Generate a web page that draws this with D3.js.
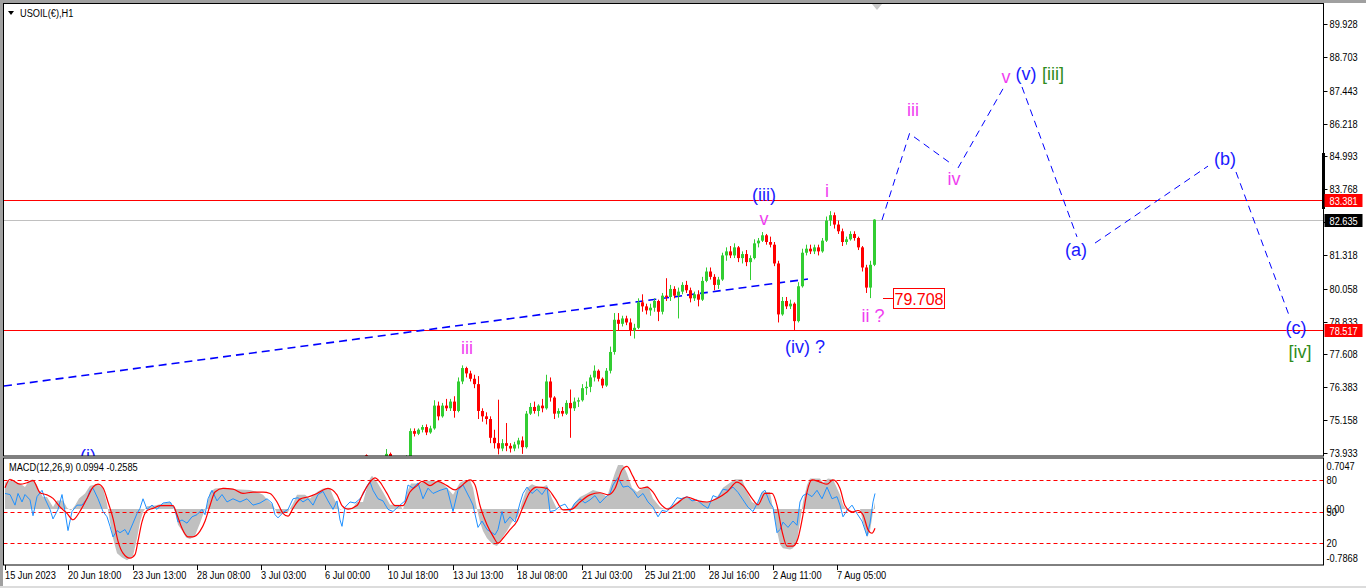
<!DOCTYPE html>
<html>
<head>
<meta charset="utf-8">
<script src="https://cdn.jsdelivr.net/npm/d3@7"></script>
<style>
  body { margin: 0; background: #fff; overflow: hidden; }
  text { font-family: "Liberation Sans", Arial, sans-serif; }
</style>
</head>
<body>
<div id="chart"></div>
<script>
var svgWidth = 1366;
var svgHeight = 588;

// ---------- data ----------
var symbolTitle = "USOIL(€),H1";
var macdTitle = "MACD(12,26,9) 0.0994 -0.2585";

var priceTicks = [89.928, 88.703, 87.443, 86.218, 84.993, 83.768, 82.543, 81.318, 80.058, 78.833, 77.608, 76.383, 75.158, 73.933];
var timeTickHours = [0, 63, 128, 192, 256, 320, 383, 448, 512, 577, 640, 704, 768, 832];
var timeTickLabels = ["15 Jun 2023", "20 Jun 18:00", "23 Jun 13:00", "28 Jun 08:00", "3 Jul 03:00", "6 Jul 00:00",
  "10 Jul 18:00", "13 Jul 13:00", "18 Jul 08:00", "21 Jul 03:00", "25 Jul 21:00", "28 Jul 16:00", "2 Aug 11:00", "7 Aug 05:00"];

// 4-hour OHLC groups starting at hour 360
var barStartHour = 360;
var barStepHours = 4;
var priceBars = [
  [73.85,73.88,73.60,73.70],[73.70,73.80,73.40,73.60],[73.60,73.80,73.50,73.70],[73.70,73.75,73.40,73.50],
  [73.50,73.70,73.30,73.60],[73.60,74.08,73.50,73.90],[73.90,73.95,73.60,73.70],[73.70,73.80,73.40,73.50],
  [73.50,73.70,73.30,73.60],[73.60,73.75,73.40,73.70],[73.70,73.85,73.50,73.80],[73.80,74.85,73.70,74.75],
  [74.75,74.85,74.55,74.65],[74.65,74.85,74.60,74.80],[74.80,74.98,74.70,74.90],[74.90,75.00,74.60,74.70],
  [74.70,74.95,74.65,74.85],[74.85,75.90,74.80,75.70],[75.70,75.85,75.15,75.30],[75.30,75.80,75.25,75.70],
  [75.70,75.95,75.50,75.60],[75.60,75.95,75.50,75.85],[75.85,76.05,75.25,75.50],[75.50,76.75,75.45,76.60],
  [76.60,77.20,76.50,77.10],[77.10,77.15,76.75,76.90],[76.90,77.00,76.60,76.70],[76.70,76.85,76.35,76.50],
  [76.50,76.80,75.20,75.50],[75.50,75.60,75.10,75.30],[75.30,75.45,75.00,75.20],[75.20,75.30,74.30,74.50],
  [74.50,74.80,74.10,74.30],[74.30,75.92,73.88,74.10],[74.10,74.45,74.00,74.30],[74.30,75.05,74.00,74.20],
  [74.20,74.30,73.95,74.10],[74.10,74.35,74.00,74.25],[74.25,74.50,74.10,74.40],[74.40,74.55,73.90,74.15],
  [74.15,75.50,74.10,75.40],[75.40,75.80,75.35,75.65],[75.65,75.85,75.40,75.50],[75.50,75.75,75.30,75.70],
  [75.70,75.95,75.45,75.60],[75.60,76.85,75.55,76.60],[76.60,76.75,75.85,76.00],[76.00,76.05,75.20,75.40],
  [75.40,75.60,75.25,75.50],[75.50,75.65,75.30,75.40],[75.40,75.90,75.35,75.80],[75.80,76.30,74.50,75.60],
  [75.60,76.00,75.50,75.85],[75.85,76.00,75.65,75.90],[75.90,76.50,75.85,76.35],[76.35,76.60,76.10,76.40],
  [76.40,76.85,76.20,76.75],[76.75,77.20,76.60,77.00],[77.00,77.05,76.60,76.70],[76.70,76.75,76.35,76.45],
  [76.45,77.10,76.40,77.00],[77.00,77.90,76.90,77.70],[77.70,79.15,77.60,78.90],[78.90,79.15,78.50,78.75],
  [78.75,79.05,78.65,78.95],[78.95,79.05,78.70,78.80],[78.80,78.95,78.30,78.50],[78.50,78.75,78.20,78.60],
  [78.60,79.70,78.55,79.55],[79.55,79.85,79.20,79.40],[79.40,79.50,79.10,79.25],[79.25,79.50,79.05,79.35],
  [79.35,79.70,79.20,79.60],[79.60,79.65,78.85,79.20],[79.20,79.90,79.10,79.80],[79.80,80.45,79.60,79.75],
  [79.75,80.20,79.60,80.05],[80.05,80.15,79.70,79.80],[79.80,80.10,78.95,79.95],[79.95,80.30,79.85,80.20],
  [80.20,80.35,79.90,80.00],[80.00,80.10,79.55,79.70],[79.70,79.95,79.60,79.85],[79.85,80.00,79.40,79.65],
  [79.65,80.50,79.60,80.35],[80.35,80.85,80.30,80.70],[80.70,80.85,80.40,80.50],[80.50,80.60,80.00,80.20],
  [80.20,80.50,80.05,80.40],[80.40,81.40,80.35,81.30],[81.30,81.60,81.10,81.45],[81.45,81.65,81.20,81.30],
  [81.30,81.75,81.20,81.60],[81.60,81.65,81.05,81.20],[81.20,81.45,81.00,81.35],[81.35,81.50,80.90,81.05],
  [81.05,81.30,80.38,81.20],[81.20,81.90,81.15,81.75],[81.75,81.95,81.60,81.85],[81.85,82.17,81.80,82.05],
  [82.05,82.10,81.70,81.80],[81.80,82.00,81.60,81.70],[81.70,81.80,80.90,81.00],[81.00,81.10,78.80,79.10],
  [79.10,79.75,79.05,79.60],[79.60,79.75,79.30,79.40],[79.40,79.65,79.30,79.50],[79.50,79.55,78.52,78.85],
  [78.85,80.30,78.80,80.15],[80.15,81.55,80.10,81.40],[81.40,81.70,81.30,81.55],[81.55,81.70,81.35,81.45],
  [81.45,81.70,81.35,81.60],[81.60,81.70,81.30,81.45],[81.45,81.95,81.40,81.85],[81.85,82.75,81.80,82.60],
  [82.60,82.95,82.40,82.80],[82.80,82.90,82.30,82.45],[82.45,82.60,82.10,82.20],[82.20,82.30,81.65,81.80],
  [81.80,82.00,81.70,81.90],[81.90,82.20,81.85,82.10],[82.10,82.20,81.85,81.95],[81.95,82.00,81.50,81.60],
  [81.60,81.65,80.70,80.85],[80.85,80.95,79.90,80.10],[80.10,81.10,79.708,80.95],[80.95,82.65,80.90,82.635]
];

var levelPrices = [83.381, 78.517];
var currentPrice = 82.635;
var lowMark = { hour: 888, price: 79.708 };

// long dashed trendline and the projected wave legs: [hour1, price1, hour2, price2]
var trendLine = [-1, 76.43, 803, 80.42];
var waveLegs = [
  [877, 82.62, 905, 85.90],
  [909, 85.72, 948, 84.67],
  [953, 84.56, 999, 87.58],
  [1017, 87.58, 1072, 81.99],
  [1090, 81.76, 1203, 84.63],
  [1231, 84.41, 1285, 78.97]
];

// wave labels: [text, hour, price, kind]
var waveLabels = [
  ["(i)", 83, 73.60, "blue"], ["iii", 462, 77.62, "pink"], ["(iii)", 759, 83.33, "blue"],
  ["v", 759, 82.43, "pink"], ["i", 822, 83.48, "pink"], ["(iv) ?", 800, 77.66, "blue"],
  ["ii ?", 868, 78.82, "pink"], ["iii", 908, 86.50, "pink"], ["iv", 949, 83.93, "pink"],
  ["v", 1001, 87.73, "pink"], ["(v)", 1021, 87.84, "blue"], ["[iii]", 1048, 87.84, "green"],
  ["(a)", 1071, 81.28, "blue"], ["(b)", 1220, 84.67, "blue"], ["(c)", 1291, 78.37, "blue"],
  ["[iv]", 1295, 77.47, "green"]
];

// MACD histogram [hour, value]
var macdHist = [
  [0,0.37],[3,0.40],[8,0.40],[12,0.37],[16,0.35],[20,0.31],[24,0.40],[28,0.42],[32,0.34],[35,0.24],[38,0.17],
  [42,0.17],[45,0.10],[48,0.03],[52,0.12],[58,0.12],[62,0.02],[66,-0.02],[70,0.05],[74,0.15],[80,0.22],[85,0.33],
  [92,0.35],[98,0.30],[102,0.07],[105,-0.18],[108,-0.41],[112,-0.62],[117,-0.68],[122,-0.72],[128,-0.66],[132,-0.41],
  [135,-0.18],[138,-0.04],[142,0.04],[150,0.05],[158,0.08],[166,0.10],[170,-0.04],[173,-0.22],[177,-0.30],[181,-0.40],
  [185,-0.42],[190,-0.38],[192,-0.30],[195,-0.20],[198,-0.08],[202,0.06],[205,0.24],[210,0.29],[220,0.30],[230,0.28],
  [245,0.27],[252,0.24],[258,0.20],[263,0.12],[268,0.05],[273,-0.08],[278,-0.06],[283,-0.04],[288,0.08],[292,0.20],
  [300,0.20],[305,0.15],[312,0.24],[318,0.29],[325,0.29],[329,0.15],[333,0.05],[335,-0.01],[340,0.02],[348,0.02],
  [352,0.10],[358,0.10],[362,0.31],[365,0.43],[367,0.47],[372,0.38],[378,0.24],[385,0.06],[395,0.06],[398,-0.01],
  [402,0.24],[406,0.36],[415,0.36],[420,0.40],[428,0.40],[437,0.37],[442,0.30],[448,0.20],[452,0.30],[455,0.37],
  [460,0.41],[465,0.41],[468,0.30],[472,0.00],[475,-0.18],[478,-0.31],[482,-0.41],[488,-0.50],[492,-0.52],[497,-0.41],
  [502,-0.31],[507,-0.18],[513,-0.10],[517,0.10],[522,0.30],[527,0.35],[535,0.30],[542,0.34],[547,0.15],[552,0.00],
  [560,-0.02],[565,-0.02],[568,0.06],[575,0.17],[582,0.22],[588,0.27],[595,0.24],[602,0.17],[605,0.30],[610,0.51],
  [613,0.62],[618,0.62],[622,0.50],[627,0.30],[632,0.24],[638,0.30],[643,0.33],[648,0.15],[655,0.03],[660,0.00],
  [665,0.03],[672,0.10],[678,0.17],[685,0.15],[692,0.10],[705,0.10],[712,0.17],[718,0.30],[725,0.37],[730,0.42],
  [737,0.42],[742,0.24],[747,0.10],[752,0.06],[757,0.24],[765,0.24],[768,0.00],[772,-0.31],[775,-0.50],[778,-0.55],
  [785,-0.57],[788,-0.55],[792,-0.45],[795,-0.18],[798,0.10],[802,0.34],[805,0.43],[815,0.43],[818,0.37],[823,0.43],
  [828,0.42],[835,0.20],[838,0.06],[842,-0.02],[845,0.00],[855,0.00],[858,-0.18],[862,-0.40],[865,-0.31],[868,-0.04],
  [870,0.10]
];

// MACD signal [hour, value]
var macdSignal = [
  [0,0.30],[5,0.42],[15,0.35],[22,0.37],[28,0.40],[35,0.23],[42,0.20],[48,0.15],[55,0.03],[62,-0.06],[68,-0.15],
  [75,-0.03],[82,0.15],[88,0.31],[93,0.35],[98,0.30],[103,0.10],[108,-0.13],[113,-0.45],[118,-0.62],[125,-0.69],
  [130,-0.64],[133,-0.45],[137,-0.18],[142,-0.02],[148,0.01],[155,0.05],[168,0.05],[172,-0.08],[177,-0.27],[183,-0.39],
  [188,-0.39],[195,-0.31],[200,-0.17],[205,0.05],[210,0.24],[218,0.29],[228,0.28],[238,0.22],[248,0.24],[258,0.24],
  [265,0.22],[272,0.10],[278,-0.06],[283,-0.10],[288,0.01],[295,0.14],[303,0.17],[312,0.22],[323,0.29],[332,0.20],
  [337,0.05],[343,0.00],[352,0.05],[358,0.22],[365,0.38],[370,0.44],[375,0.38],[382,0.22],[390,0.05],[398,0.05],
  [405,0.24],[412,0.33],[417,0.39],[425,0.33],[433,0.39],[442,0.33],[450,0.27],[455,0.31],[465,0.41],[470,0.34],
  [475,0.05],[482,-0.22],[488,-0.38],[493,-0.48],[498,-0.41],[505,-0.29],[512,-0.17],[518,0.03],[525,0.24],[532,0.31],
  [542,0.29],[550,0.15],[558,-0.01],[567,0.00],[575,0.10],[585,0.20],[595,0.23],[603,0.20],[610,0.29],[617,0.55],
  [622,0.60],[628,0.46],[635,0.29],[642,0.31],[648,0.24],[655,0.08],[663,0.00],[672,0.08],[682,0.17],[692,0.12],
  [702,0.10],[712,0.15],[722,0.24],[732,0.38],[738,0.33],[747,0.15],[753,0.06],[760,0.22],[767,0.22],[772,0.05],
  [777,-0.31],[782,-0.52],[788,-0.52],[793,-0.41],[798,-0.08],[802,0.24],[807,0.41],[815,0.38],[822,0.35],[828,0.41],
  [835,0.29],[840,0.05],[847,-0.04],[853,-0.02],[858,-0.08],[863,-0.29],[867,-0.34],[870,-0.27]
];

// oscillator drawn on the 0..100 scale [hour, value]
var oscLine = [
  [0,67],[5,66],[10,56],[13,67],[17,59],[20,66],[25,61],[28,46],[32,64],[37,70],[40,62],[45,52],[48,43],[53,52],
  [57,66],[60,50],[63,32],[67,50],[72,56],[77,56],[82,62],[85,70],[88,72],[93,62],[98,50],[102,45],[105,36],[108,26],
  [112,32],[115,30],[120,33],[123,28],[128,39],[132,48],[135,53],[138,62],[142,52],[147,56],[152,52],[158,58],[165,59],
  [170,52],[173,40],[177,42],[182,39],[187,45],[192,47],[197,52],[200,47],[203,62],[207,70],[212,60],[217,66],[222,59],
  [228,62],[235,59],[242,62],[248,56],[255,58],[262,62],[267,58],[270,47],[273,44],[278,49],[283,52],[288,62],[293,63],
  [298,59],[303,62],[308,56],[313,66],[318,69],[323,60],[328,52],[332,60],[335,42],[337,36],[340,54],[345,59],[350,58],
  [355,62],[358,66],[362,74],[365,78],[368,70],[373,62],[378,60],[383,52],[388,50],[395,56],[400,60],[403,75],[408,72],
  [413,77],[418,62],[423,72],[428,67],[435,70],[442,72],[448,50],[453,70],[458,75],[465,62],[468,56],[473,35],[477,41],
  [482,33],[487,30],[490,28],[493,33],[497,50],[500,39],[505,45],[510,40],[515,58],[518,67],[522,73],[527,67],[532,71],
  [537,66],[542,73],[545,50],[550,51],[555,55],[560,57],[565,50],[570,58],[575,62],[580,58],[585,61],[590,65],[595,58],
  [600,63],[605,67],[608,75],[613,82],[618,73],[623,74],[628,70],[633,63],[638,67],[643,59],[648,54],[653,45],[657,51],
  [662,50],[667,56],[672,63],[677,62],[682,64],[687,60],[692,61],[698,56],[703,53],[708,65],[713,63],[718,71],[723,70],
  [728,73],[733,68],[738,61],[743,54],[748,50],[753,59],[757,68],[760,70],[765,58],[768,54],[772,30],[775,33],[778,40],
  [783,35],[788,41],[792,37],[795,59],[798,65],[802,67],[807,64],[812,70],[817,62],[822,73],[827,62],[832,64],[835,56],
  [838,45],[842,51],[847,56],[852,48],[857,41],[862,27],[865,39],[868,59],[870,67]
];
var oscLevels = [80, 50, 20];
var macdRange = [-0.7868, 0.7047];

// ---------- layout ----------
var left = 3.5, right = 1323.5;
var priceTop = 3.5, priceBottom = 456;
var macdTop = 458, macdBottom = 565;
var smallFont = "11px";
var squeeze = 0.84;   // terminal font is narrower than Liberation Sans

var colors = { blue: "#1a1aff", pink: "#f03ef0", green: "#2f8c1c" };

var svg = d3.select("#chart")
  .append("svg")
  .attr("width", svgWidth)
  .attr("height", svgHeight);

// small terminal-style text, squeezed horizontally
function smallText(sel, fx, fy) {
  return sel
    .attr("transform", (d, i) => `translate(${fx(d, i)},${fy(d, i)}) scale(${squeeze},1)`)
    .style("font-size", smallFont);
}

// window frame
svg.append("rect").attr("width", svgWidth).attr("height", svgHeight).attr("fill", "#fff");
svg.append("rect").attr("width", svgWidth).attr("height", 3).attr("fill", "#a0a0a0");
svg.append("rect").attr("width", 3).attr("height", svgHeight).attr("fill", "#a0a0a0");
svg.append("rect").attr("y", 586).attr("width", svgWidth).attr("height", 2).attr("fill", "#dcdcdc");

// scales
var x = d3.scaleLinear().domain([0, 1318]).range([5, 1323]);
var y = d3.scaleLinear().domain([73.933, 89.928]).range([453, 24]);
var yMacd = d3.scaleLinear().domain(macdRange).range([565, 459]);
var yOsc = d3.scaleLinear().domain([0, 100]).range([564.5, 458.5]);

var defs = svg.append("defs");
defs.append("clipPath").attr("id", "priceClip")
  .append("rect").attr("x", left).attr("y", priceTop).attr("width", right - left).attr("height", priceBottom - priceTop);
defs.append("clipPath").attr("id", "macdClip")
  .append("rect").attr("x", left).attr("y", macdTop).attr("width", right - left).attr("height", macdBottom - macdTop);

// ---------- price panel ----------
var pricePanel = svg.append("g").attr("clip-path", "url(#priceClip)");

// level lines
pricePanel.selectAll(".level")
  .data(levelPrices)
  .join("line")
  .attr("x1", left).attr("x2", right)
  .attr("y1", d => Math.round(y(d)) + 0.5).attr("y2", d => Math.round(y(d)) + 0.5)
  .attr("stroke", "#ff0000").attr("stroke-width", 1);

pricePanel.append("line")
  .attr("x1", left).attr("x2", right)
  .attr("y1", Math.round(y(currentPrice)) + 0.5).attr("y2", Math.round(y(currentPrice)) + 0.5)
  .attr("stroke", "#c0c0c0");

// trendline
pricePanel.append("line")
  .attr("x1", x(trendLine[0])).attr("y1", y(trendLine[1]))
  .attr("x2", x(trendLine[2])).attr("y2", y(trendLine[3]))
  .attr("stroke", "#0000ff").attr("stroke-width", 1.6)
  .attr("stroke-dasharray", "8,5");

// candles
var candles = pricePanel.append("g")
  .selectAll("g")
  .data(priceBars)
  .join("g");

var barX = (d, i) => Math.round(x(barStartHour + i * barStepHours));
var barColor = d => d[3] >= d[0] ? "#32cd32" : "#ff0000";

candles.append("line")
  .attr("x1", (d, i) => barX(d, i) + 1.5).attr("x2", (d, i) => barX(d, i) + 1.5)
  .attr("y1", d => y(d[1])).attr("y2", d => y(d[2]))
  .attr("stroke", barColor).attr("stroke-width", 1);

candles.append("rect")
  .attr("x", (d, i) => barX(d, i))
  .attr("width", 3)
  .attr("y", d => y(Math.max(d[0], d[3])))
  .attr("height", d => Math.max(1, Math.abs(y(d[0]) - y(d[3]))))
  .attr("fill", barColor);

// projected wave legs
pricePanel.selectAll(".leg")
  .data(waveLegs)
  .join("line")
  .attr("x1", d => x(d[0])).attr("y1", d => y(d[1]))
  .attr("x2", d => x(d[2])).attr("y2", d => y(d[3]))
  .attr("stroke", "#0000ff").attr("stroke-width", 1)
  .attr("stroke-dasharray", "7,5");

// wave labels
pricePanel.selectAll(".wave")
  .data(waveLabels)
  .join("text")
  .attr("x", d => x(d[1])).attr("y", d => y(d[2]))
  .attr("text-anchor", "middle")
  .attr("fill", d => colors[d[3]])
  .style("font-size", "18px")
  .text(d => d[0]);

// low price marker
var lowX = x(lowMark.hour), lowY = Math.round(y(lowMark.price)) + 0.5;
pricePanel.append("line")
  .attr("x1", lowX - 10).attr("x2", lowX).attr("y1", lowY).attr("y2", lowY)
  .attr("stroke", "#ff0000");
pricePanel.append("rect")
  .attr("x", lowX + 0.5).attr("y", lowY - 10).attr("width", 51).attr("height", 20)
  .attr("fill", "#fff").attr("stroke", "#ff0000");
pricePanel.append("text")
  .attr("x", lowX + 26).attr("y", lowY + 6)
  .attr("text-anchor", "middle").attr("fill", "#ff0000")
  .style("font-size", "16px")
  .text(lowMark.price.toFixed(3));

// chart shift marker
svg.append("path")
  .attr("d", `M${x(867)},4 L${x(877)},4 L${x(872)},10 Z`)
  .attr("fill", "#c8c8c8");

// panel frame
svg.append("rect")
  .attr("x", left).attr("y", priceTop).attr("width", right - left).attr("height", priceBottom - priceTop)
  .attr("fill", "none").attr("stroke", "#000");

// price axis
var priceAxis = svg.append("g");
priceAxis.selectAll("line")
  .data(priceTicks)
  .join("line")
  .attr("x1", right).attr("x2", right + 4)
  .attr("y1", d => Math.round(y(d)) + 0.5).attr("y2", d => Math.round(y(d)) + 0.5)
  .attr("stroke", "#000");
smallText(priceAxis.selectAll("text").data(priceTicks).join("text"), () => right + 6, d => y(d) + 4)
  .attr("fill", "#000")
  .text(d => d.toFixed(3));

// thick marker on the price scale
svg.append("rect")
  .attr("x", right - 1.5).attr("y", 153).attr("width", 3).attr("height", 56)
  .attr("fill", "#000");

// price labels on the scale
var priceTags = [
  { price: levelPrices[0], fill: "#ff0000" },
  { price: currentPrice, fill: "#000" },
  { price: levelPrices[1], fill: "#ff0000" }
];
var tags = svg.append("g").selectAll("g").data(priceTags).join("g");
tags.append("rect")
  .attr("x", right + 1).attr("y", d => Math.round(y(d.price)) - 6)
  .attr("width", 38).attr("height", 13)
  .attr("fill", d => d.fill);
smallText(tags.append("text"), () => right + 6, d => Math.round(y(d.price)) + 4.5)
  .attr("fill", "#fff")
  .text(d => d.price.toFixed(3));

// title
svg.append("path").attr("d", "M8,11 L14,11 L11,15 Z").attr("fill", "#000");
smallText(svg.append("text"), () => 20, () => 17).attr("fill", "#000").text(symbolTitle);

// ---------- MACD panel ----------
var macdPanel = svg.append("g").attr("clip-path", "url(#macdClip)");

macdPanel.append("path")
  .datum(macdHist)
  .attr("d", d3.area().x(d => x(d[0])).y0(yMacd(0)).y1(d => yMacd(d[1])))
  .attr("fill", "#c0c0c0");

macdPanel.selectAll(".osclevel")
  .data(oscLevels)
  .join("line")
  .attr("x1", left).attr("x2", right)
  .attr("y1", d => Math.round(yOsc(d)) + 0.5).attr("y2", d => Math.round(yOsc(d)) + 0.5)
  .attr("stroke", "#ff0000").attr("stroke-dasharray", "4,3");

macdPanel.append("path")
  .datum(oscLine)
  .attr("d", d3.line().x(d => x(d[0])).y(d => yOsc(d[1])))
  .attr("fill", "none").attr("stroke", "#1e90ff").attr("stroke-width", 1);

macdPanel.append("path")
  .datum(macdSignal)
  .attr("d", d3.line().x(d => x(d[0])).y(d => yMacd(d[1])).curve(d3.curveMonotoneX))
  .attr("fill", "none").attr("stroke", "#ff0000").attr("stroke-width", 1.2);

svg.append("rect")
  .attr("x", left).attr("y", macdTop).attr("width", right - left).attr("height", macdBottom - macdTop)
  .attr("fill", "none").attr("stroke", "#000");

smallText(svg.append("text"), () => 9, () => 471).attr("fill", "#000").text(macdTitle);

// MACD panel scale labels
var macdScaleLabels = [
  { text: macdRange[1].toFixed(4), y: yMacd(macdRange[1]) + 11 },
  { text: "0.00", y: yMacd(0) + 4 },
  { text: macdRange[0].toFixed(4), y: yMacd(macdRange[0]) - 3 }
].concat(oscLevels.map(v => ({ text: String(v), y: yOsc(v) + 4 })));

smallText(svg.append("g").selectAll("text").data(macdScaleLabels).join("text"), () => right + 3, d => d.y)
  .attr("fill", "#000")
  .text(d => d.text);

// ---------- time axis ----------
var timeAxis = svg.append("g");
timeAxis.selectAll("line")
  .data(timeTickHours)
  .join("line")
  .attr("x1", d => Math.round(x(d)) + 0.5).attr("x2", d => Math.round(x(d)) + 0.5)
  .attr("y1", macdBottom).attr("y2", macdBottom + 5)
  .attr("stroke", "#000");
smallText(timeAxis.selectAll("text").data(timeTickLabels).join("text"), (d, i) => Math.round(x(timeTickHours[i])), () => 579)
  .attr("fill", "#000")
  .text(d => d);
</script>
</body>
</html>
